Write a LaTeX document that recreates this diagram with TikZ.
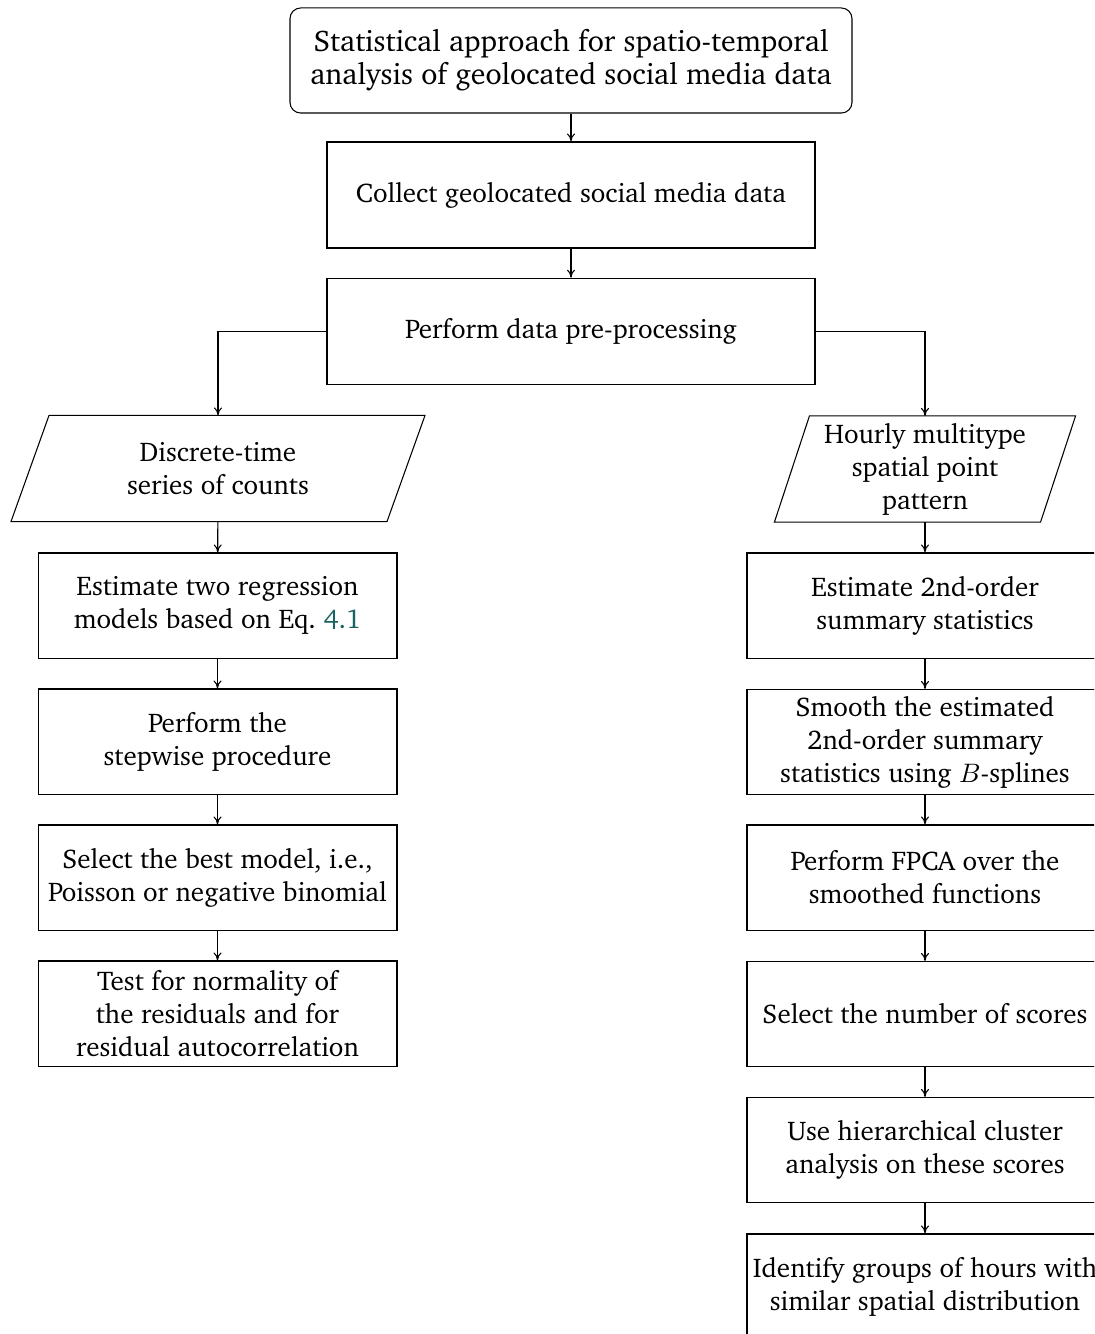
\documentclass[tikz,border=0pt]{standalone}
\usepackage[T1]{fontenc}
\usepackage{charter}
\usetikzlibrary{calc,arrows.meta}
\definecolor{linkteal}{RGB}{26,99,99}
\tikzset{
  box/.style={draw, rectangle, align=center, minimum width=134.6pt, minimum height=39.4pt, inner sep=0pt, font=\fontsize{10.15pt}{12.4pt}\selectfont},
  rbox/.style={box, minimum width=133.5pt},
  para/.style={rectangle, align=center, minimum height=39.4pt, inner sep=0pt, font=\fontsize{10.15pt}{12.4pt}\selectfont},
  conn/.style={-{To[length=3pt,width=3pt]}, line width=0.4pt}
}
\begin{document}
\begin{tikzpicture}[x=0.375pt,y=-0.375pt]
\clip (0,0) rectangle (1094,1334);
\useasboundingbox (0,0) rectangle (1094,1334);
% top
\node[box, rounded corners=4pt, minimum width=210.75pt, font=\fontsize{11.2pt}{12.4pt}\selectfont] (top) at (571,60.5)
  {Statistical approach for spatio-temporal\\analysis of geolocated social media data};
\node[box, minimum width=183pt, minimum height=39.75pt] (collect) at (571,195)
  {Collect geolocated social media data};
\node[box, minimum width=183pt, minimum height=40pt] (prep) at (571,331.5)
  {Perform data pre-processing};
% parallelograms
\node[para, minimum width=140.6pt] (dts) at (218,468.5) {Discrete-time\\series of counts};
\draw ($(dts.north west)+(19,0)$) -- ($(dts.north east)+(19,0)$) -- ($(dts.south east)+(-19,0)$) -- ($(dts.south west)+(-19,0)$) -- cycle;
\node[para, minimum width=99.4pt] (spp) at (925,469) {Hourly multitype\\spatial point\\pattern};
\draw ($(spp.north west)+(17.5,0)$) -- ($(spp.north east)+(17.5,0)$) -- ($(spp.south east)+(-17.5,0)$) -- ($(spp.south west)+(-17.5,0)$) -- cycle;
% left column
\node[box] (l1) at (217.5,605.5) {Estimate two regression\\models based on Eq.~\textcolor{linkteal}{4.1}};
\node[box] (l2) at (217.5,741.5) {Perform the\\stepwise procedure};
\node[box] (l3) at (217.5,877.5) {Select the best model, i.e.,\\Poisson or negative binomial};
\node[box] (l4) at (217.5,1013.5) {Test for normality of\\the residuals and for\\residual autocorrelation};
% right column
\node[rbox] (r1) at (925,605.5) {Estimate 2nd-order\\summary statistics};
\node[rbox] (r2) at (925,742) {Smooth the estimated\\2nd-order summary\\statistics using $B$-splines};
\node[rbox] (r3) at (925,877.5) {Perform FPCA over the\\smoothed functions};
\node[rbox] (r4) at (925,1014) {Select the number of scores};
\node[rbox] (r5) at (925,1150) {Use hierarchical cluster\\analysis on these scores};
\node[rbox] (r6) at (925,1286.5) {Identify groups of hours with\\similar spatial distribution};
% connectors
\draw[conn] (top) -- (collect);
\draw[conn] (collect) -- (prep);
\draw[conn] (prep.west) -| (dts.north);
\draw[conn] (prep.east) -| (spp.north);
\draw[conn] (dts) -- (l1);
\draw[conn] (l1) -- (l2);
\draw[conn] (l2) -- (l3);
\draw[conn] (l3) -- (l4);
\draw[conn] (spp) -- (r1);
\draw[conn] (r1) -- (r2);
\draw[conn] (r2) -- (r3);
\draw[conn] (r3) -- (r4);
\draw[conn] (r4) -- (r5);
\draw[conn] (r5) -- (r6);
\end{tikzpicture}
\end{document}
